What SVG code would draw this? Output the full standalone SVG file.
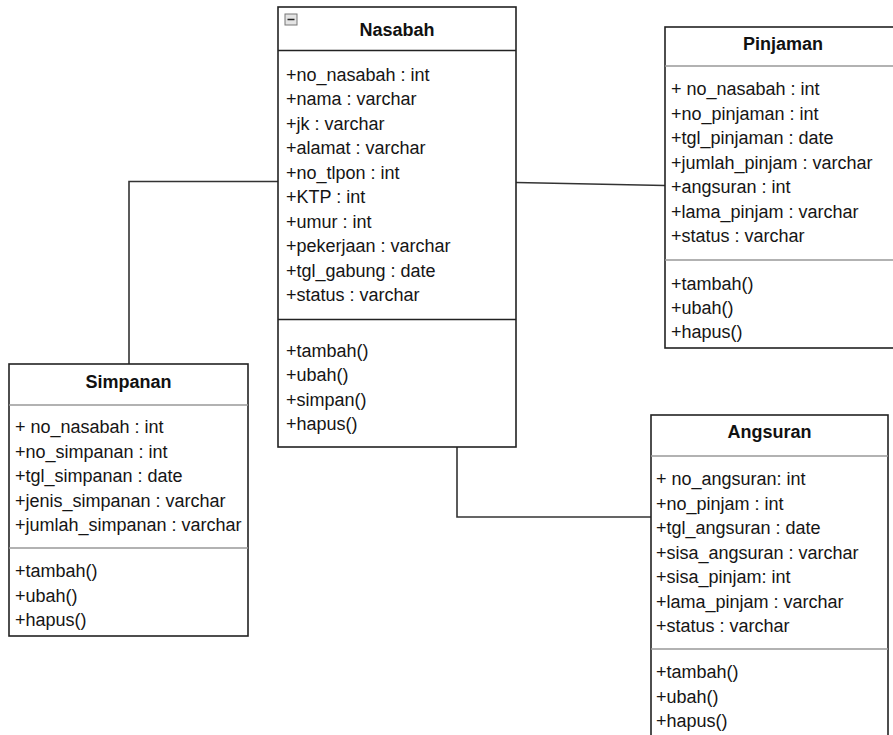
<svg xmlns="http://www.w3.org/2000/svg" width="893" height="735" viewBox="0 0 893 735">
  <style>
    .box { fill: #ffffff; stroke: #222222; stroke-width: 1.6; }
    .sep { stroke: #999999; stroke-width: 1.6; }
    .sepd { stroke: #222222; stroke-width: 1.6; }
    .title { font-family: "Liberation Sans", Arial, sans-serif; font-size: 18px; font-weight: bold; fill: #111111; text-anchor: middle; }
    .item { font-family: "Liberation Sans", Arial, sans-serif; font-size: 18px; fill: #151515; }
    .conn { fill: none; stroke: #333333; stroke-width: 1.6; }
  </style>
  <rect width="893" height="735" fill="#ffffff"/>

  <!-- associations -->
  <g id="connectors">
    <polyline class="conn" points="129,364 129,181.5 278,181.5"/>
    <line class="conn" x1="516" y1="182.5" x2="665" y2="185.5"/>
    <polyline class="conn" points="457,445 457,517 651,517"/>
  </g>

  <!-- Nasabah class -->
  <g id="nasabah">
    <rect class="box" x="278" y="7" width="238" height="440"/>
    <line class="sepd" x1="278" y1="50.5" x2="516" y2="50.5"/>
    <line class="sepd" x1="278" y1="319.5" x2="516" y2="319.5"/>
    <rect x="285" y="14" width="12" height="11" fill="#e4e4e4" stroke="#777777" stroke-width="1"/>
    <line x1="287.5" y1="19.5" x2="294.5" y2="19.5" stroke="#222222" stroke-width="1.5"/>
    <text class="title" x="397" y="36">Nasabah</text>
    <text class="item" x="286" y="80.5">+no_nasabah : int</text>
    <text class="item" x="286" y="105">+nama : varchar</text>
    <text class="item" x="286" y="129.5">+jk : varchar</text>
    <text class="item" x="286" y="154">+alamat : varchar</text>
    <text class="item" x="286" y="178.5">+no_tlpon : int</text>
    <text class="item" x="286" y="203">+KTP : int</text>
    <text class="item" x="286" y="227.5">+umur : int</text>
    <text class="item" x="286" y="252">+pekerjaan : varchar</text>
    <text class="item" x="286" y="276.5">+tgl_gabung : date</text>
    <text class="item" x="286" y="301">+status : varchar</text>
    <text class="item" x="286" y="356.5">+tambah()</text>
    <text class="item" x="286" y="381">+ubah()</text>
    <text class="item" x="286" y="405.5">+simpan()</text>
    <text class="item" x="286" y="430">+hapus()</text>
  </g>

  <!-- Pinjaman class -->
  <g id="pinjaman">
    <rect class="box" x="665" y="27" width="236" height="321"/>
    <line class="sep" x1="665" y1="66" x2="901" y2="66"/>
    <line class="sep" x1="665" y1="260" x2="901" y2="260"/>
    <text class="title" x="783" y="50">Pinjaman</text>
    <text class="item" x="671" y="95">+ no_nasabah : int</text>
    <text class="item" x="671" y="119.5">+no_pinjaman : int</text>
    <text class="item" x="671" y="144">+tgl_pinjaman : date</text>
    <text class="item" x="671" y="168.5">+jumlah_pinjam : varchar</text>
    <text class="item" x="671" y="193">+angsuran : int</text>
    <text class="item" x="671" y="217.5">+lama_pinjam : varchar</text>
    <text class="item" x="671" y="242">+status : varchar</text>
    <text class="item" x="671" y="290">+tambah()</text>
    <text class="item" x="671" y="314">+ubah()</text>
    <text class="item" x="671" y="338">+hapus()</text>
  </g>

  <!-- Simpanan class -->
  <g id="simpanan">
    <rect class="box" x="9" y="364" width="239" height="272"/>
    <line class="sep" x1="9" y1="405" x2="248" y2="405"/>
    <line class="sep" x1="9" y1="548" x2="248" y2="548"/>
    <text class="title" x="128.5" y="388">Simpanan</text>
    <text class="item" x="15" y="433">+ no_nasabah : int</text>
    <text class="item" x="15" y="457.5">+no_simpanan : int</text>
    <text class="item" x="15" y="482">+tgl_simpanan : date</text>
    <text class="item" x="15" y="506.5">+jenis_simpanan : varchar</text>
    <text class="item" x="15" y="531">+jumlah_simpanan : varchar</text>
    <text class="item" x="15" y="577">+tambah()</text>
    <text class="item" x="15" y="601.5">+ubah()</text>
    <text class="item" x="15" y="626">+hapus()</text>
  </g>

  <!-- Angsuran class -->
  <g id="angsuran">
    <rect class="box" x="651" y="415" width="237" height="340"/>
    <line class="sep" x1="651" y1="456" x2="888" y2="456"/>
    <line class="sep" x1="651" y1="649" x2="888" y2="649"/>
    <text class="title" x="769.5" y="438">Angsuran</text>
    <text class="item" x="656" y="485">+ no_angsuran: int</text>
    <text class="item" x="656" y="509.5">+no_pinjam : int</text>
    <text class="item" x="656" y="534">+tgl_angsuran : date</text>
    <text class="item" x="656" y="558.5">+sisa_angsuran : varchar</text>
    <text class="item" x="656" y="583">+sisa_pinjam: int</text>
    <text class="item" x="656" y="607.5">+lama_pinjam : varchar</text>
    <text class="item" x="656" y="632">+status : varchar</text>
    <text class="item" x="656" y="678">+tambah()</text>
    <text class="item" x="656" y="702.5">+ubah()</text>
    <text class="item" x="656" y="727">+hapus()</text>
  </g>
</svg>
